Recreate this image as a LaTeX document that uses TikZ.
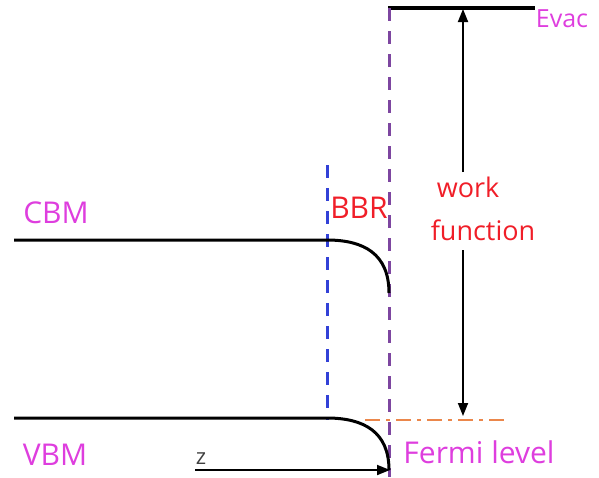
\documentclass[tikz,border=0pt]{standalone}
\usepackage{fontspec}
\setmainfont{Open Sans}
\usetikzlibrary{arrows.meta}
\definecolor{lblmag}{RGB}{222,62,222}
\definecolor{lblred}{RGB}{240,30,40}
\definecolor{vacpurple}{RGB}{125,70,160}
\definecolor{bbrblue}{RGB}{50,65,215}
\definecolor{fermiorange}{RGB}{235,135,75}
\tikzset{
  band/.style={line width=3pt, black},
  lbl/.style={inner sep=0pt, font=\fontsize{30}{34}\selectfont},
  guide/.style={line width=3pt, dash pattern=on 13pt off 10pt},
  arr/.style={line width=1.8pt, -{Triangle[length=13pt,width=10pt]}}
}
\begin{document}
\begin{tikzpicture}[x=1pt,y=-1pt]
\useasboundingbox (0,0) rectangle (599,477);

% reference points
\coordinate (evacL) at (388,8);
\coordinate (evacR) at (535,8);
\coordinate (vacTop) at (389,8);
\coordinate (vacBot) at (389,477);
\coordinate (bbrTop) at (327,165);
\coordinate (bbrBot) at (327,420);
\coordinate (cbmL) at (14,240);
\coordinate (cbmK) at (327,240);
\coordinate (cbmE) at (389,293);
\coordinate (vbmL) at (14,418);
\coordinate (vbmK) at (327,418);
\coordinate (vbmE) at (389,470);
\coordinate (efL) at (365,420);
\coordinate (efR) at (508,420);
\coordinate (wfTopA) at (463,172);
\coordinate (wfTopB) at (463,9);
\coordinate (wfBotA) at (463,250);
\coordinate (wfBotB) at (463,416);
\coordinate (zL) at (195,470);
\coordinate (zR) at (390,470);

% vacuum level
\draw[band, line width=3.4pt] (evacL) -- (evacR);

% dashed guides
\draw[guide, vacpurple] (vacTop) -- (vacBot);
\draw[guide, bbrblue] (bbrTop) -- (bbrBot);

% bands with bending near the surface
\draw[band] (cbmL) -- (cbmK) .. controls (364,240) and (389,254) .. (cbmE);
\draw[band] (vbmL) -- (vbmK) .. controls (364,418) and (389,432) .. (vbmE);

% Fermi level
\draw[fermiorange, line width=2.6pt, dash pattern=on 15pt off 6pt on 4pt off 6pt] (efL) -- (efR);

% work function arrows
\draw[arr] (wfTopA) -- (wfTopB);
\draw[arr] (wfBotA) -- (wfBotB);

% depth axis
\draw[arr] (zL) -- (zR);

% labels
\node[lbl, lblmag, font=\fontsize{25}{28}\selectfont] (evac) at (562,19) {Evac};
\node[lbl, lblmag] (cbm) at (56,213) {CBM};
\node[lbl, lblmag] (vbm) at (55,455) {VBM};
\node[lbl, lblred] (bbr) at (359,208) {BBR};
\node[lbl, lblred, font=\fontsize{27}{30}\selectfont] (work) at (468,187) {work};
\node[lbl, lblred, font=\fontsize{27}{30}\selectfont] (func) at (483,230) {function};
\node[lbl, lblmag] (fermi) at (479,452) {Fermi level};
\node[lbl, black!75, font=\fontsize{22}{24}\selectfont] (z) at (201,459) {z};
\end{tikzpicture}
\end{document}
